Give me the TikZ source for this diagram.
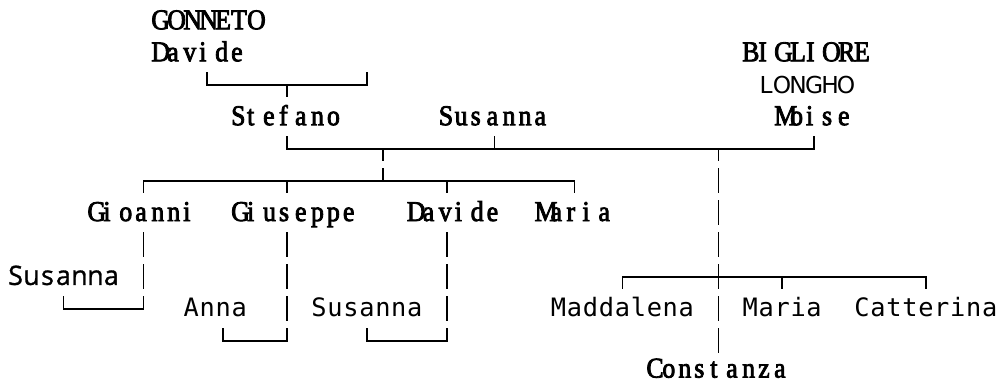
\documentclass[tikz,border=0pt]{standalone}
\usepackage{fontspec}
\newfontfamily\serifnm[FakeStretch=0.9,FakeBold=2.8]{Liberation Serif}
\newfontfamily\sansmono{DejaVu Sans Mono}
\newfontfamily\sanshum[FakeBold=1.2]{Open Sans}
\newfontfamily\sansdv{DejaVu Sans}
\newlength\cw \setlength\cw{11.9775pt}
\def\cellsL#1{\cellsLi#1\relax}
\def\cellsLi#1{\ifx\relax#1\else\makebox[\cw][l]{#1}\expandafter\cellsLi\fi}
\def\cellsC#1{\cellsCi#1\relax}
\def\cellsCi#1{\ifx\relax#1\else\makebox[\cw][c]{#1}\expandafter\cellsCi\fi}
\tikzset{
  ln/.style={line width=1.15pt, line cap=butt, line join=miter},
  txt/.style={anchor=base west, inner sep=0pt, outer sep=0pt},
  sr/.style={txt, font=\fontsize{21.5}{24}\selectfont\serifnm},
  sm/.style={txt, font=\fontsize{19}{24}\selectfont\sansmono},
  sh/.style={txt, font=\fontsize{20}{24}\selectfont\sanshum},
  sd/.style={txt, font=\fontsize{17.5}{24}\selectfont\sansdv}
}
\begin{document}
\begin{tikzpicture}[x=11.9775pt, y=-23.9625pt]
\useasboundingbox[fill=white] (0.025,-0.917) rectangle (62.64,11.07);
% ---- names ----
\node[sr] (gonneto)  at (9.5,0)  {\cellsL{GONNETO}};
\node[sr] (davideA)  at (9.5,1)  {\cellsL{Davide}};
\node[sr] (bigliore) at (46.5,1) {\cellsL{BIGLIORE}};
\node[sd] (longho)   at (47.5,2) {\cellsC{LONGHO}};
\node[sr] (stefano)  at (14.5,3) {\cellsL{Stefano}};
\node[sr] (susannaA) at (27.5,3) {\cellsL{Susanna}};
\node[sr] (moise)    at (48.5,3) {\cellsL{Moise}};
\node[sr] (gioanni)  at (5.5,6)  {\cellsL{Gioanni}};
\node[sr] (giuseppe) at (14.5,6) {\cellsL{Giuseppe}};
\node[sr] (davideB)  at (25.5,6) {\cellsL{Davide}};
\node[sr] (mariaA)   at (33.5,6) {\cellsL{Maria}};
\node[sh] (susannaB) at (0.5,8)  {\cellsC{Susanna}};
\node[sm] (anna)     at (11.5,9) {\cellsC{Anna}};
\node[sm] (susannaC) at (19.5,9) {\cellsC{Susanna}};
\node[sm] (maddalena) at (34.5,9) {\cellsC{Maddalena}};
\node[sm] (mariaB)   at (46.5,9) {\cellsC{Maria}};
\node[sm] (catterina) at (53.5,9) {\cellsC{Catterina}};
\node[sr] (constanza) at (40.5,10.9) {\cellsL{Constanza}};
% ---- row 2 bracket ----
\draw[ln] (13,1.35) |- (23,1.75) -- (23,1.35);
\draw[ln] (18,1.75) -- (18,2.12);
% ---- row 4 ----
\draw[ln] (18,3.35) |- (51,3.75) -- (51,3.35);
\draw[ln] (31,3.35) -- (31,3.75);
\draw[ln] (24,3.75) -- (24,4.12);
\draw[ln] (45,3.75) -- (45,4.12);
% ---- row 5 ----
\draw[ln] (9,5.12) |- (36,4.75) -- (36,5.12);
\draw[ln] (24,4.35) -- (24,4.75);
\draw[ln] (18,4.75) -- (18,5.12);
\draw[ln] (28,4.75) -- (28,5.12);
% ---- vertical bars, full cells ----
\foreach \c/\r in {45/5,45/6,45/7,9/7,18/7,28/7,9/8,18/8,28/8,45/8,18/9,28/9,45/9,45/10}
  \draw[ln] (\c,\r-0.65) -- (\c,\r+0.12);
% ---- row 8 right bracket ----
\draw[ln] (39,8.12) |- (58,7.75) -- (58,8.12);
\draw[ln] (49,7.75) -- (49,8.12);
% ---- row 9 left bracket ----
\draw[ln] (4,8.35) |- (9,8.75) -- (9,8.35);
% ---- row 10 brackets ----
\draw[ln] (14,9.35) |- (18,9.75) -- (18,9.35);
\draw[ln] (23,9.35) |- (28,9.75) -- (28,9.35);
\end{tikzpicture}
\end{document}
